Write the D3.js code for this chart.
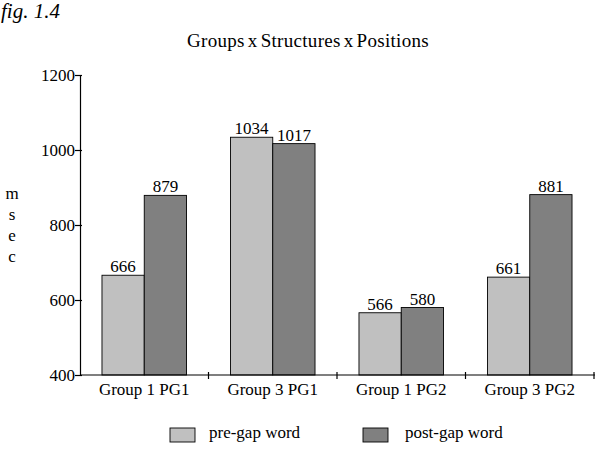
<!DOCTYPE html>
<html>
<head>
<script src="https://d3js.org/d3.v7.min.js"></script>
<style>
  body { margin: 0; background: #fff; }
  text { font-family: 'Liberation Serif', 'DejaVu Serif', serif; fill: #000; }
</style>
</head>
<body>
<svg id="chart" width="608" height="452"></svg>
<script>
'use strict';

var categories = ["Group 1 PG1", "Group 3 PG1", "Group 1 PG2", "Group 3 PG2"];
var series = ["pre-gap word", "post-gap word"];
var preGap = [666, 1034, 566, 661];
var postGap = [879, 1017, 580, 881];
var yTicks = [400, 600, 800, 1000, 1200];
var colors = ["#c0c0c0", "#808080"];

var svg = d3.select("#chart");
var plotLeft = 80, plotRight = 594, plotTop = 75, plotBottom = 375;
var serif = "'Liberation Serif', 'DejaVu Serif', serif";

var x = d3.scaleBand().domain(categories).range([plotLeft, plotRight]).paddingInner(0).paddingOuter(0);
var x1 = d3.scaleBand().domain(series).range([0, x.bandwidth()]).paddingInner(0).paddingOuter(0.52);
var y = d3.scaleLinear().domain([400, 1200]).range([plotBottom, plotTop]);

var rows = categories.map(function(c, i) { return {cat: c, vals: [preGap[i], postGap[i]]}; });

// fig label
svg.append("text").attr("x", 1).attr("y", 18)
  .style("font-size", "21px").style("font-style", "italic").text("fig. 1.4");

// title
svg.append("text").attr("x", 308).attr("y", 47).attr("text-anchor", "middle")
  .style("font-size", "19px").style("letter-spacing", "0.3px").style("word-spacing", "-2px")
  .text("Groups x Structures x Positions");

// y label stacked
["m", "s", "e", "c"].forEach(function(ch, i) {
  svg.append("text").attr("x", 12).attr("y", 199 + i * 21).attr("text-anchor", "middle")
    .style("font-size", "17px").text(ch);
});

// bars
var g = svg.append("g");
rows.forEach(function(r) {
  r.vals.forEach(function(v, j) {
    var bx = x(r.cat) + x1(series[j]);
    g.append("rect").attr("x", bx).attr("y", y(v))
      .attr("width", x1.bandwidth()).attr("height", y(400) - y(v))
      .attr("fill", colors[j]).attr("stroke", "#000").attr("stroke-width", 0.9);
    g.append("text").attr("x", bx + x1.bandwidth() / 2).attr("y", y(v) - 3)
      .attr("text-anchor", "middle").style("font-size", "17px").text(v);
  });
});

// y axis
var yAxis = svg.append("g").attr("transform", "translate(" + plotLeft + ",0)")
  .call(d3.axisLeft(y).tickValues(yTicks).tickFormat(d3.format("d")).tickSize(4).tickSizeOuter(0).tickPadding(0));
yAxis.select(".domain").attr("stroke-width", 1.2);
yAxis.selectAll(".tick line").attr("x2", 2).attr("x1", -5).attr("stroke-width", 1.2);
yAxis.selectAll(".tick text").attr("x", -5).style("font-size", "17px").style("font-family", serif);

// x axis
var xAxis = svg.append("g").attr("transform", "translate(0," + plotBottom + ")")
  .call(d3.axisBottom(x).tickSize(0).tickSizeOuter(0).tickPadding(8));
xAxis.select(".domain").attr("d", "M" + plotLeft + ",0H" + (plotRight + 1)).attr("stroke-width", 1.2);
xAxis.selectAll(".tick text").style("font-size", "17px").style("font-family", serif);
svg.append("g").selectAll("line").data(categories).enter().append("line")
  .attr("x1", function(d) { return x(d) + x.bandwidth(); })
  .attr("x2", function(d) { return x(d) + x.bandwidth(); })
  .attr("y1", plotBottom - 3).attr("y2", plotBottom + 4)
  .attr("stroke", "#000").attr("stroke-width", 1.2);

// legend
var legX = [170, 363];
series.forEach(function(s, j) {
  svg.append("rect").attr("x", legX[j]).attr("y", 428).attr("width", 25).attr("height", 14)
    .attr("fill", colors[j]).attr("stroke", "#000").attr("stroke-width", 0.9);
  svg.append("text").attr("x", legX[j] + 39 + j * 3).attr("y", 438).style("font-size", "17px").text(s);
});
</script>
</body>
</html>
